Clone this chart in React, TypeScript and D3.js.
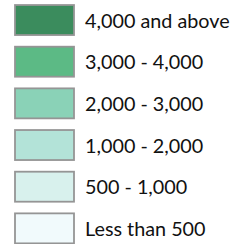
import React from "react";
import * as d3 from "d3";

const labels = ["4,000 and above", "3,000 - 4,000", "2,000 - 3,000", "1,000 - 2,000", "500 - 1,000", "Less than 500"];
const colors = ["#3b8c5d", "#5cba85", "#8ad2b7", "#b3e3d8", "#d8f1ed", "#f1fafc"];

export default function App() {
  const width = 242;
  const height = 244;
  const y = d3.scaleBand<string>().domain(labels).range([-0.8, 249.2]).paddingInner(0.28).paddingOuter(0.14);
  return (
    <svg width={width} height={height} style={{ position: "absolute", left: 0, top: 0 }}>
      {labels.map((l, i) => (
        <g key={l}>
          <rect x={15} y={y(l)!} width={59} height={y.bandwidth()} fill={colors[i]} stroke="#959595" strokeWidth={1.8} />
          <text x={85} y={y(l)! + y.bandwidth() / 2} dy="0.38em" fontFamily="Lato" fontSize={19.8} fill="#111">{l}</text>
        </g>
      ))}
    </svg>
  );
}
